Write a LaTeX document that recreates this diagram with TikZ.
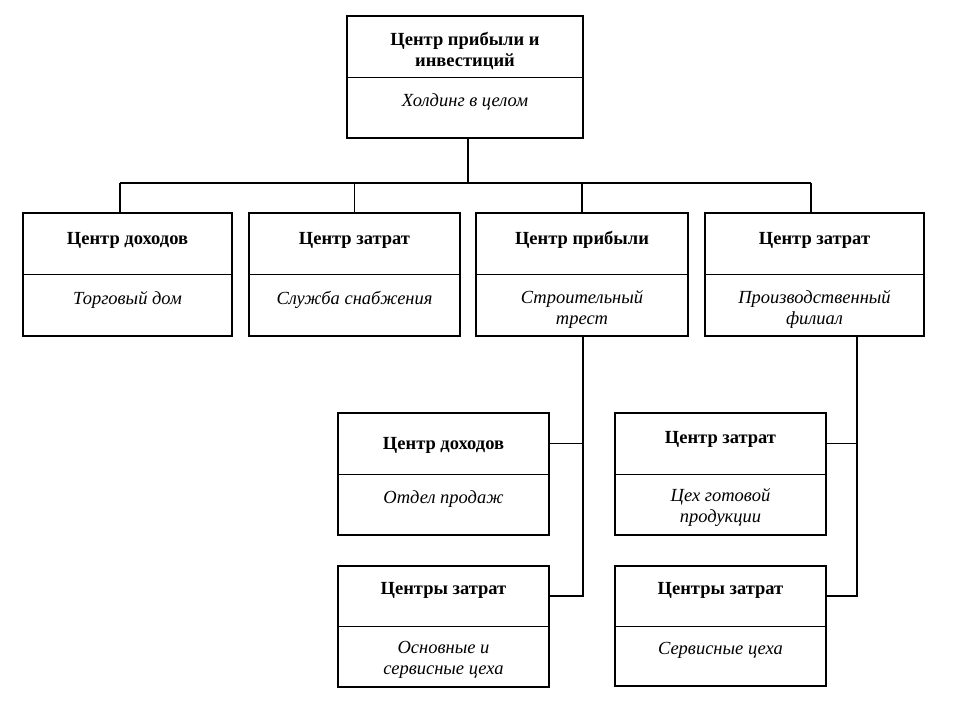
\documentclass[tikz,border=0pt]{standalone}
\usepackage{fontspec}
\setmainfont{Liberation Serif}
\usetikzlibrary{calc}
\begin{document}
\begin{tikzpicture}[x=1pt,y=-1pt,
  box/.style 2 args={draw, rectangle, line width=1.9pt, inner sep=0pt, outer sep=0pt,
     minimum width=#1, minimum height=#2},
  divider/.style={line width=0.9pt},
  hd/.style={anchor=north, inner sep=0pt, align=center, font=\bfseries\fontsize{18.5}{21}\selectfont,
     execute at begin node={\rule{0pt}{17pt}}},
  bd/.style={anchor=north, inner sep=0pt, align=center, font=\itshape\fontsize{18.5}{21}\selectfont,
     execute at begin node={\rule{0pt}{17pt}}},
  bus/.style={line width=1.4pt},
  trunk/.style={line width=1.9pt},
  twig/.style={line width=0.9pt}]
\useasboundingbox (0,0) rectangle (960,720);
\fill[white] (0,0) rectangle (960,720);

% boxes
\node[box={236pt}{122pt}] (top) at (465,77) {};
\node[box={209pt}{123pt}] (b1) at (127.5,274.5) {};
\node[box={211pt}{123pt}] (b2) at (354.5,274.5) {};
\node[box={212pt}{123pt}] (b3) at (582,274.5) {};
\node[box={219pt}{123pt}] (b4) at (814.5,274.5) {};
\node[box={211pt}{122pt}] (c1) at (443.5,474) {};
\node[box={211pt}{121pt}] (c2) at (443.5,626.5) {};
\node[box={211pt}{122pt}] (d1) at (720.5,474) {};
\node[box={211pt}{120pt}] (d2) at (720.5,626) {};

\foreach \b in {top,b1,b2,b3,b4,c1,c2,d1,d2}
  \draw[divider] (\b.west) -- (\b.east);

% texts
\node[hd] (topH) at ([yshift=-16pt]top.north) {Центр прибыли и\\инвестиций};
\node[bd] (topB) at ([yshift=-12pt]top.center) {Холдинг в целом};
\node[hd] (b1H) at ([yshift=-14pt]b1.north) {Центр доходов};
\node[bd] (b1B) at ([yshift=-13pt]b1.center) {Торговый дом};
\node[hd] (b2H) at ([yshift=-14pt]b2.north) {Центр затрат};
\node[bd] (b2B) at ([yshift=-13pt]b2.center) {Служба снабжения};
\node[hd] (b3H) at ([yshift=-14pt]b3.north) {Центр прибыли};
\node[bd] (b3B) at ([yshift=-16pt]b3.center) {Строительный\\трест};
\node[hd] (b4H) at ([yshift=-14pt]b4.north) {Центр затрат};
\node[bd] (b4B) at ([yshift=-16pt]b4.center) {Производственный\\филиал};
\node[hd] (c1H) at ([yshift=-19pt]c1.north) {Центр доходов};
\node[bd] (c1B) at ([yshift=-12pt]c1.center) {Отдел продаж};
\node[hd] (c2H) at ([yshift=-11pt]c2.north) {Центры затрат};
\node[bd] (c2B) at ([yshift=-15pt]c2.center) {Основные и\\сервисные цеха};
\node[hd] (d1H) at ([yshift=-13pt]d1.north) {Центр затрат};
\node[bd] (d1B) at ([yshift=-14pt]d1.center) {Цех готовой\\продукции};
\node[hd] (d2H) at ([yshift=-11pt]d2.north) {Центры затрат};
\node[bd] (d2B) at ([yshift=-11pt]d2.center) {Сервисные цеха};

% upper connectors
\coordinate (busL) at ([xshift=-7.5pt,yshift=30pt]b1.north);
\coordinate (busR) at ([xshift=-3.5pt,yshift=30pt]b4.north);
\coordinate (topS) at ([xshift=3pt]top.south);
\draw[bus] (busL) -- (busR);
\draw[bus] (topS) -- (topS |- busL);
\draw[bus] (busL) -- (busL |- b1.north);
\draw[bus] (b2.north) -- (b2.north |- busL);
\draw[bus] (b3.north) -- (b3.north |- busL);
\draw[bus] (busR) -- (busR |- b4.north);

% lower connectors
\coordinate (c1E) at ($(c1.north east)!0.5!(c1.east)$);
\coordinate (c2E) at ($(c2.north east)!0.5!(c2.east)$);
\coordinate (d1E) at ($(d1.north east)!0.5!(d1.east)$);
\coordinate (d2E) at ($(d2.north east)!0.5!(d2.east)$);
\coordinate (b3S) at ([xshift=1pt]b3.south);
\coordinate (b4S) at ([xshift=42.5pt]b4.south);
\draw[trunk] (b3S) -- (b3S |- c2E) -- (c2E);
\draw[twig] (c1E) -- (c1E -| b3S);
\draw[trunk] (b4S) -- (b4S |- d2E) -- (d2E);
\draw[twig] (d1E) -- (d1E -| b4S);
\end{tikzpicture}
\end{document}
